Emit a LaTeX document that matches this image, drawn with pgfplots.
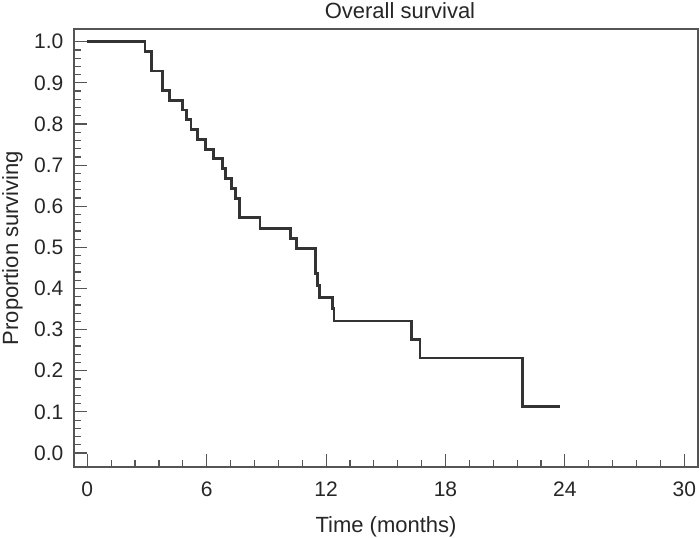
\documentclass[border=0pt]{standalone}
\usepackage{fontspec}
\setmainfont{Liberation Sans}
\usepackage{pgfplots}
\pgfplotsset{compat=1.18}
\definecolor{curve}{HTML}{333333}
\definecolor{axisgray}{HTML}{555555}
\definecolor{txt}{HTML}{262626}
\begin{document}
\begin{tikzpicture}
\begin{axis}[
  scale only axis,
  width=624bp, height=438bp,
  xmin=-0.67, xmax=30.69,
  ymin=-0.034, ymax=1.031,
  xtick={0,6,12,18,24,30},
  ytick={0,0.1,0.2,0.3,0.4,0.5,0.6,0.7,0.8,0.9,1.0},
  minor x tick num=4, minor y tick num=4,
  tick align=inside,
  xtick pos=bottom, ytick pos=left,
  major tick length=13bp, minor tick length=7bp,
  axis line style={axisgray, line width=1.6bp},
  every tick/.style={axisgray, line width=1.2bp},
  /pgf/number format/assume math mode=true,
  tick label style={text=txt, font=\fontsize{21bp}{25bp}\selectfont},
  yticklabel style={/pgf/number format/.cd, fixed, fixed zerofill, precision=1,
    /tikz/.cd, anchor=east, inner sep=0pt, xshift=-10.5bp},
  xticklabel style={anchor=base, inner sep=0pt, yshift=-29.7bp},
  every axis title shift=0pt,
  title=Overall survival,
  title style={at={(axis description cs:0.5224,1.0251)}, anchor=base,
    yshift=0pt, inner sep=0pt, text=txt, font=\fontsize{22bp}{26bp}\selectfont},
  xlabel=Time (months),
  xlabel style={at={(axis description cs:0.5,-0.1485)}, anchor=base,
    inner sep=0pt, text=txt, font=\fontsize{22bp}{26bp}\selectfont},
  ylabel=Proportion surviving,
  ylabel style={at={(axis description cs:-0.0897,0.5)}, anchor=base,
    inner sep=0pt, text=txt, font=\fontsize{22bp}{26bp}\selectfont},
]
\addplot[const plot, curve, line width=2.8bp] coordinates {
  (0,1.0)
  (2.9,0.976)
  (3.24,0.929)
  (3.79,0.882)
  (4.12,0.857)
  (4.77,0.834)
  (5.0,0.811)
  (5.21,0.787)
  (5.55,0.763)
  (5.95,0.738)
  (6.33,0.716)
  (6.78,0.692)
  (6.95,0.667)
  (7.25,0.643)
  (7.45,0.619)
  (7.64,0.572)
  (8.68,0.546)
  (10.22,0.521)
  (10.52,0.497)
  (11.48,0.436)
  (11.56,0.407)
  (11.66,0.378)
  (12.31,0.351)
  (12.4,0.321)
  (16.3,0.276)
  (16.72,0.231)
  (21.86,0.114)
  (23.75,0.114)
};
\coordinate (sw) at (rel axis cs:0,0);
\coordinate (ne) at (rel axis cs:1,1);
\end{axis}
\pgfresetboundingbox
\path[use as bounding box] ([shift={(-74bp,-70.3bp)}]sw) rectangle ([shift={(2bp,29bp)}]ne);
\end{tikzpicture}
\end{document}
